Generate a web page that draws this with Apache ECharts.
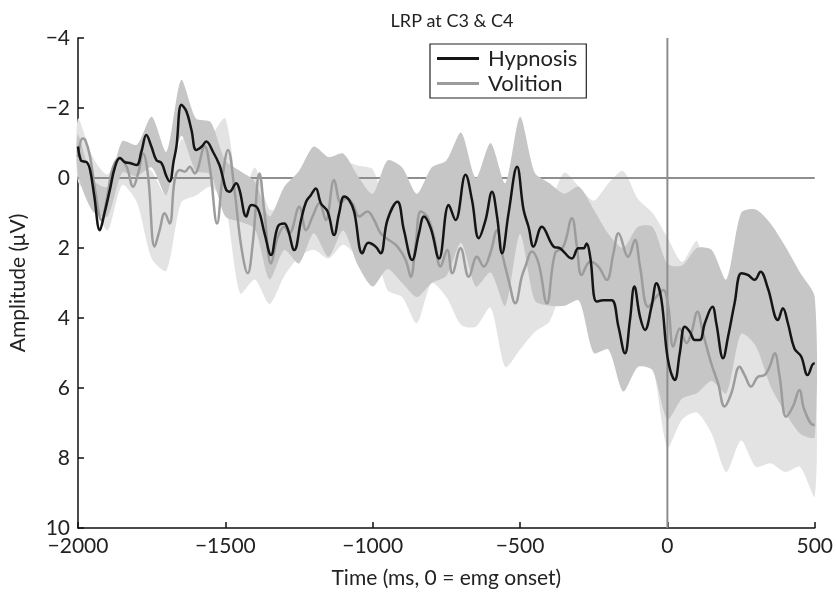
<!DOCTYPE html>
<html><head><meta charset="utf-8">
<script src="https://cdn.jsdelivr.net/npm/echarts@6/dist/echarts.min.js"></script>
<style>html,body{margin:0;padding:0;background:#fff}#c{width:836px;height:595px}</style>
</head><body><div id="c"></div>
<script>
// Hypnosis mean (time ms, amplitude µV)
const hypT = [-2000,-1990,-1980,-1970,-1959,-1945,-1926,-1910,-1892,-1875,-1858,-1840,-1824,-1801,-1785,-1768,-1751,-1734,-1717,-1700,-1689,-1675,-1666,-1649,-1632,-1615,-1599,-1580,-1565,-1542,-1520,-1508,-1497,-1486,-1463,-1452,-1429,-1412,-1390,-1367,-1345,-1322,-1300,-1289,-1266,-1243,-1226,-1210,-1193,-1176,-1153,-1131,-1114,-1097,-1080,-1063,-1035,-1015,-990,-973,-950,-916,-894,-866,-843,-826,-803,-775,-742,-719,-685,-663,-640,-617,-595,-578,-561,-539,-510,-488,-471,-454,-426,-386,-364,-324,-302,-285,-274,-262,-240,-217,-189,-166,-144,-127,-112,-93,-76,-54,-37,-20,-3,10,25,42,59,76,93,110,127,153,166,189,206,228,251,273,296,316,341,375,392,409,431,454,476,497,500];
const hypV = [-0.9,-0.5,-0.47,-0.45,-0.23,0.5,1.49,1.0,0.34,-0.3,-0.57,-0.45,-0.43,-0.37,-0.75,-1.23,-0.9,-0.51,-0.43,-0.05,0.1,-0.5,-0.9,-2.09,-1.9,-1.37,-0.8,-0.9,-1.04,-0.75,-0.37,0.0,0.34,0.39,0.15,0.34,1.1,0.77,0.87,1.58,2.2,1.39,1.3,1.44,2.06,1.2,0.68,0.49,0.3,0.72,0.96,1.63,1.01,0.53,0.63,0.96,2.15,1.85,1.96,2.15,1.2,0.68,1.49,2.34,1.58,1.1,1.44,2.3,0.77,1.2,-0.09,0.63,1.72,1.2,0.39,1.1,2.15,1.01,-0.32,0.91,1.4,1.96,1.39,1.96,2.01,2.3,2.01,2.01,1.87,2.25,3.53,3.49,3.49,4.25,5.01,4.06,3.1,3.96,4.34,3.68,3.01,3.49,4.91,5.5,5.77,5.01,4.25,4.39,4.63,4.63,4.15,3.68,4.15,5.15,4.53,3.58,2.72,2.77,2.91,2.68,3.15,4.06,3.72,4.15,4.87,5.1,5.63,5.3,5.3];
// Volition mean
const volT = [-2000,-1985,-1976,-1959,-1942,-1920,-1903,-1881,-1858,-1835,-1813,-1796,-1779,-1762,-1740,-1723,-1706,-1689,-1672,-1655,-1638,-1621,-1604,-1570,-1553,-1528,-1510,-1491,-1469,-1446,-1424,-1407,-1384,-1367,-1345,-1322,-1300,-1283,-1249,-1226,-1204,-1181,-1159,-1131,-1108,-1091,-1069,-1046,-1018,-995,-973,-945,-916,-888,-871,-854,-837,-815,-792,-770,-747,-730,-702,-674,-646,-623,-601,-578,-561,-539,-516,-494,-482,-460,-437,-409,-381,-353,-324,-307,-291,-262,-234,-206,-183,-166,-133,-110,-93,-65,-37,-14,3,20,42,65,81,102,121,149,172,194,217,245,262,284,307,330,347,364,381,403,426,448,465,497,500];
const volV = [-0.6,-1.13,-1.1,-0.61,0.34,1.2,0.63,-0.32,-0.56,-0.32,0.25,-0.13,-0.7,-0.04,1.96,1.49,1.01,1.3,0.06,-0.23,-0.18,-0.32,-0.13,-0.9,-0.32,1.3,0.0,-0.8,0.34,1.96,2.72,1.87,-0.13,1.01,2.44,1.68,1.39,1.58,0.82,1.49,1.1,0.72,1.2,0.06,0.72,0.58,0.72,1.1,0.96,1.2,1.58,1.77,1.96,2.34,2.82,1.87,0.96,1.1,1.68,2.53,2.06,2.72,2.01,2.82,2.25,2.53,2.15,1.49,2.15,2.91,3.58,2.82,2.53,2.1,2.44,3.58,2.15,1.96,1.15,1.96,2.77,2.39,2.53,2.91,2.15,1.58,2.25,1.77,2.53,3.68,3.39,3.2,3.68,4.82,4.3,4.72,4.44,3.82,4.44,5.3,5.87,6.53,6.15,5.39,5.63,5.96,5.68,5.63,5.39,5.01,5.68,6.82,6.53,6.06,6.63,7.06,7.06];
// Error bands (time grid, upper = more negative edge, lower = more positive edge)
const bandT = [-2000,-1950,-1900,-1850,-1800,-1750,-1700,-1650,-1600,-1550,-1500,-1450,-1400,-1350,-1300,-1250,-1200,-1150,-1100,-1050,-1000,-950,-900,-850,-800,-750,-700,-650,-600,-550,-500,-450,-400,-350,-300,-250,-200,-150,-100,-50,0,50,100,150,200,250,300,350,400,450,500];
const hypTop = [-1.25,0.05,0.25,-1.05,-0.95,-1.75,-0.75,-2.8,-1.7,-1.6,-0.5,-0.2,0.1,1.1,0.25,-0.2,-0.9,-0.6,-0.7,-0.05,0.45,-0.5,-0.3,0.45,-0.3,-0.5,-1.3,0.0,-1.0,0.15,-1.75,-0.15,0.15,0.45,0.25,0.9,1.6,2.0,1.4,1.4,2.45,2.5,2.0,2.05,2.9,1.0,0.9,1.3,1.95,2.7,3.4];
const hypBot = [-0.1,0.95,1.1,-0.15,-0.05,-0.3,0.5,-1.2,-0.2,-0.1,1.1,1.25,1.45,2.9,2.06,2.44,1.58,2.25,1.5,2.5,3.1,2.6,3.0,3.4,3.0,2.8,1.85,3.1,2.7,3.65,1.6,3.5,3.65,3.65,3.5,5.0,4.9,6.1,5.4,5.5,6.9,6.3,6.15,5.8,6.15,4.45,4.8,5.95,6.7,7.3,7.4];
const volTop = [-1.7,-0.6,-0.1,-0.8,-0.5,-0.2,0.5,-1.1,-0.95,-1.2,-1.7,0.7,-0.3,0.9,0.8,0.45,-0.05,-0.5,-0.5,-0.35,-0.25,0.9,0.9,0.9,-0.2,0.45,0.4,0.6,1.1,1.9,1.5,0.9,0.7,-0.15,0.25,0.65,0.15,-0.2,0.6,1.0,1.7,2.4,1.8,3.4,3.9,4.25,4.45,4.4,5.2,5.4,5.8];
const volBot = [0.1,0.6,1.5,0.2,0.7,2.3,2.65,0.7,0.5,0.25,0.8,3.3,2.9,3.6,2.8,2.25,2.05,2.3,1.9,2.2,1.9,3.2,3.4,4.15,3.0,3.4,4.2,4.25,3.7,5.4,4.9,4.4,4.1,3.1,3.5,3.7,3.5,4.45,4.9,5.4,7.7,6.9,6.7,7.3,8.4,7.5,8.25,8.15,8.4,8.25,9.1];
const xTicks = [-2000,-1500,-1000,-500,0,500];
const yTicks = [-4,-2,0,2,4,6,8,10];

const pairs = (t, v) => t.map((x, i) => [x, v[i]]);
const minus = v => String(v).replace('-', '\u2212');
const FONT = 'Lato, "Noto Sans", sans-serif';

function band(top, bot, fill) {
  return function (params, api) {
    const pts = [];
    for (let i = 0; i < bandT.length; i++) pts.push(api.coord([bandT[i], top[i]]));
    for (let i = bandT.length - 1; i >= 0; i--) pts.push(api.coord([bandT[i], bot[i]]));
    return { type: 'polygon', shape: { points: pts, smooth: 0.25 }, style: { fill: fill } };
  };
}

const chart = echarts.init(document.getElementById('c'), null, { renderer: 'canvas' });
chart.setOption({
  animation: false,
  backgroundColor: '#fff',
  title: {
    text: 'LRP at C3 & C4', left: 447, top: 7, textAlign: 'center',
    textStyle: { fontFamily: FONT, fontSize: 18, fontWeight: 'normal', color: '#222' }
  },
  legend: {
    data: ['Hypnosis', 'Volition'], orient: 'vertical', left: 430, top: 44,
    icon: 'rect', itemWidth: 42, itemHeight: 3, itemGap: 2,
    padding: [3, 9, 3, 7], borderColor: '#222', borderWidth: 1.2,
    textStyle: { fontFamily: FONT, fontSize: 22, lineHeight: 23, color: '#222', padding: [0, 0, 0, 4] }
  },
  grid: { left: 78, right: 19, top: 38, bottom: 67 },
  xAxis: {
    type: 'value', min: -2000, max: 500, interval: 500,
    name: 'Time (ms, 0 = emg onset)', nameLocation: 'middle', nameGap: 40,
    nameTextStyle: { fontFamily: FONT, fontSize: 21, color: '#222' },
    axisLine: { show: true, onZero: false, lineStyle: { color: '#111', width: 1.5 } },
    axisTick: { show: true, inside: true, length: 6, lineStyle: { color: '#111', width: 1.5 } },
    axisLabel: { fontFamily: FONT, fontSize: 21, color: '#222', margin: 8, formatter: minus, customValues: xTicks },
    splitLine: { show: false }
  },
  yAxis: {
    type: 'value', inverse: true, min: -4, max: 10, interval: 2,
    name: 'Amplitude (\u03bcV)', nameLocation: 'middle', nameGap: 49, nameRotate: 90,
    nameTextStyle: { fontFamily: FONT, fontSize: 21, color: '#222' },
    axisLine: { show: true, onZero: false, lineStyle: { color: '#111', width: 1.5 } },
    axisTick: { show: true, inside: true, length: 6, lineStyle: { color: '#111', width: 1.5 } },
    axisLabel: { fontFamily: FONT, fontSize: 21, color: '#222', margin: 8, formatter: minus, customValues: yTicks },
    splitLine: { show: false }
  },
  series: [
    { name: 'volBand', type: 'custom', z: 1, silent: true, data: [0], renderItem: band(volTop, volBot, '#e3e3e3') },
    { name: 'zero', type: 'line', z: 2, silent: true, symbol: 'none', data: [[-2000, 0], [500, 0]],
      lineStyle: { color: '#8e8e8e', width: 2 } },
    { name: 'hypBand', type: 'custom', z: 3, silent: true, data: [0], renderItem: band(hypTop, hypBot, '#c6c6c6') },
    { name: 'onset', type: 'line', z: 4, silent: true, symbol: 'none', data: [[0, -4], [0, 10]],
      lineStyle: { color: '#8e8e8e', width: 2 } },
    { name: 'Volition', type: 'line', z: 5, symbol: 'none', smooth: 0.4, data: pairs(volT, volV),
      itemStyle: { color: '#9c9c9c' }, lineStyle: { color: '#9c9c9c', width: 2.5 } },
    { name: 'Hypnosis', type: 'line', z: 6, symbol: 'none', smooth: 0.4, data: pairs(hypT, hypV),
      itemStyle: { color: '#151515' }, lineStyle: { color: '#151515', width: 2.5 } }
  ]
});
</script></body></html>
